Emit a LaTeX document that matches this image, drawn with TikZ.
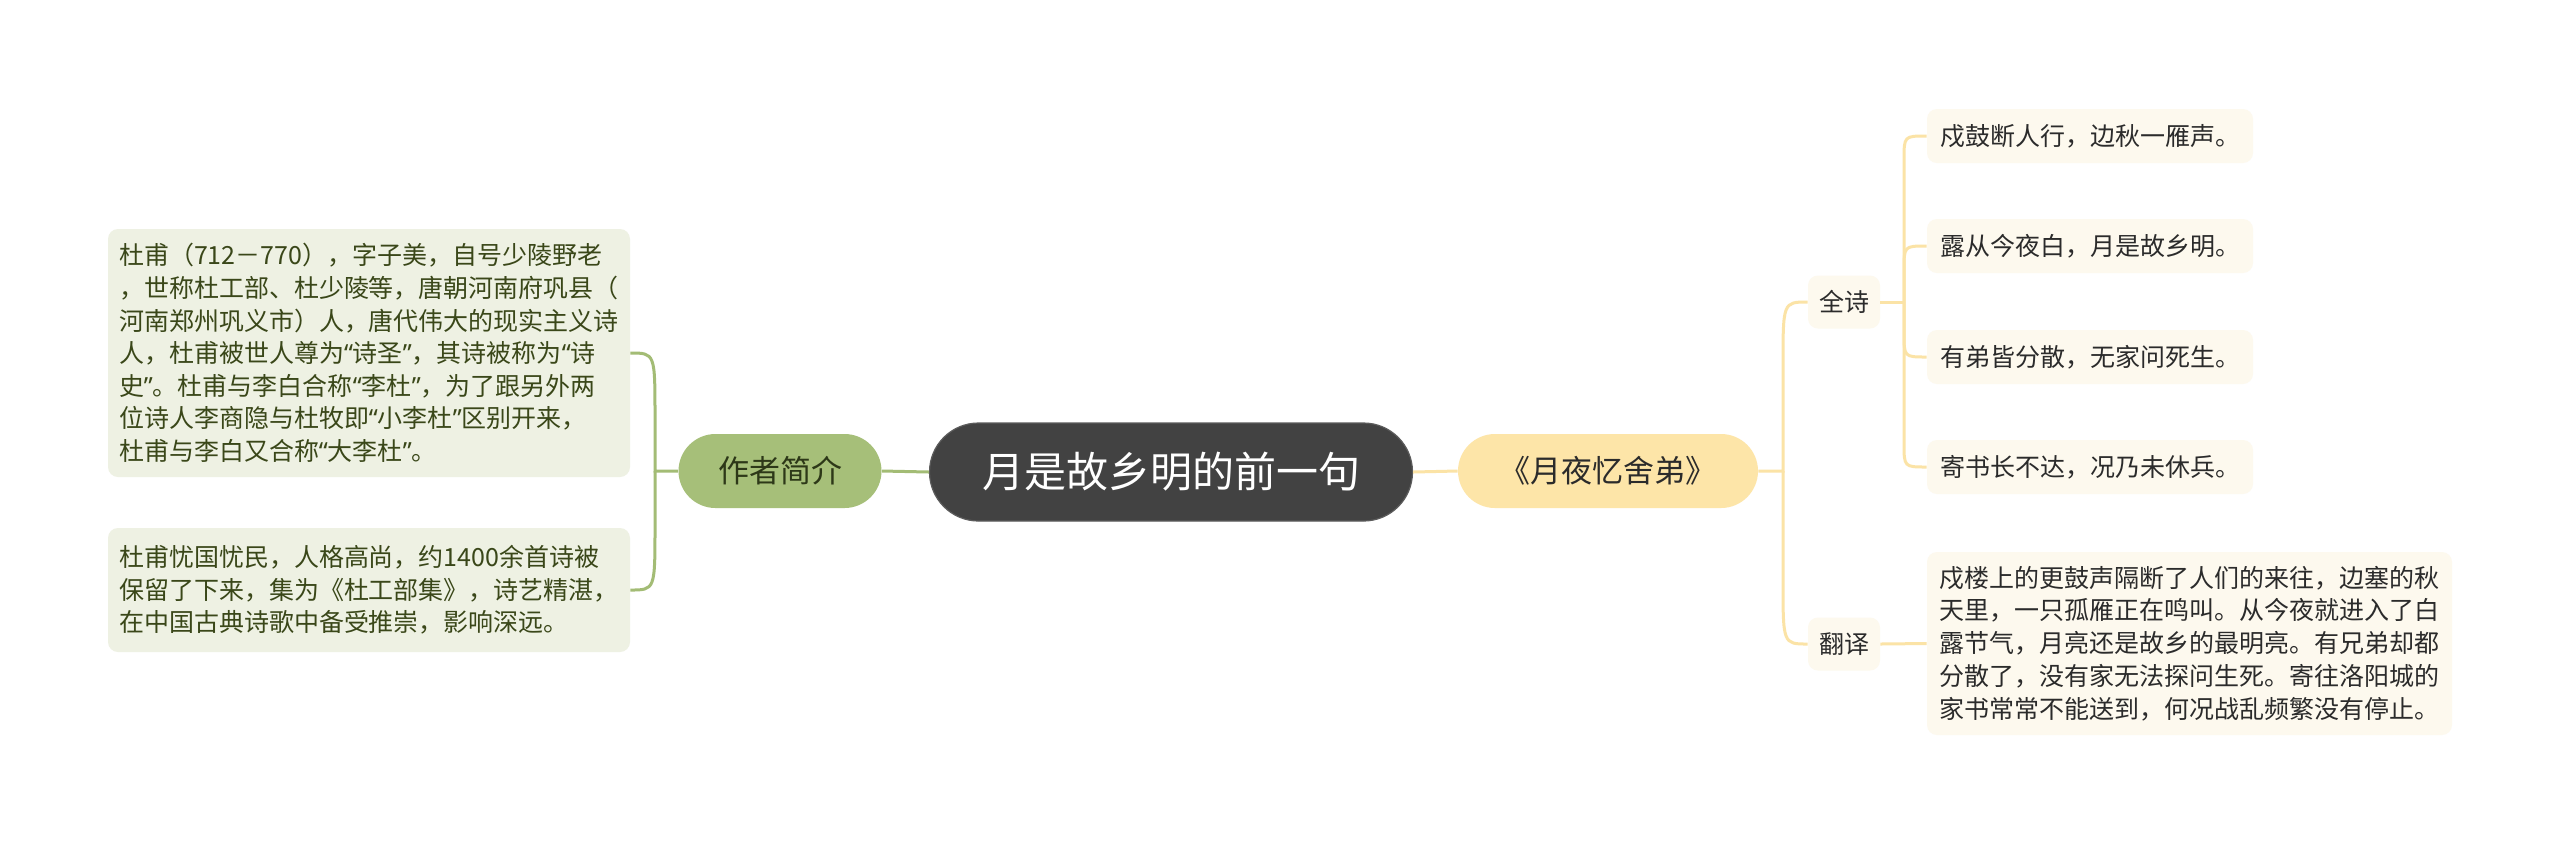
\documentclass[tikz,border=0pt]{standalone}
\usepackage{fontspec}
\setmainfont{Noto Sans CJK SC}
\newfontfamily\quotefont{Noto Sans}
\newcommand{\myqo}{{\quotefont “}}
\newcommand{\myqc}{{\quotefont ”}}
\definecolor{centerfill}{HTML}{424242}
\definecolor{centerborder}{HTML}{5C5C5C}
\definecolor{gfill}{HTML}{A6BF79}
\definecolor{gline}{HTML}{A3BC75}
\definecolor{gbox}{HTML}{EEF1E3}
\definecolor{gtext}{HTML}{3A4719}
\definecolor{gnodetext}{HTML}{2D3818}
\definecolor{yfill}{HTML}{FDE5A8}
\definecolor{yline}{HTML}{FBE3A6}
\definecolor{ybox}{HTML}{FDF9EE}
\definecolor{rtext}{HTML}{2B2B2B}
\tikzset{
  mainnode/.style={fill=centerfill, draw=centerborder, line width=0.6pt, text=white,
    rounded corners=24.5pt, minimum width=241.5pt, minimum height=49pt, inner sep=0pt,
    font=\fontsize{21}{25}\selectfont},
  greennode/.style={fill=gfill, text=gnodetext, rounded corners=18.5pt,
    minimum width=101.5pt, minimum height=37pt, inner sep=0pt,
    font=\fontsize{15.5}{19}\selectfont},
  yellownode/.style={fill=yfill, text=rtext, rounded corners=18.5pt,
    minimum width=150pt, minimum height=37pt, inner sep=0pt,
    font=\fontsize{15.5}{19}\selectfont},
  leftbox/.style={fill=gbox, text=gtext, rounded corners=5pt, align=left,
    minimum width=261pt, inner sep=0pt, font=\fontsize{12.5}{16.3}\selectfont},
  smallnode/.style={fill=ybox, text=rtext, rounded corners=5pt,
    minimum width=36pt, minimum height=26.5pt, inner sep=0pt,
    font=\fontsize{12.5}{16.3}\selectfont},
  leafbox/.style={fill=ybox, text=rtext, rounded corners=5pt, align=left,
    minimum width=163pt, minimum height=27pt, inner sep=0pt,
    font=\fontsize{12.5}{16.3}\selectfont},
  transbox/.style={fill=ybox, text=rtext, rounded corners=5pt, align=left,
    minimum width=262.5pt, minimum height=91.5pt, inner sep=0pt,
    font=\fontsize{12.5}{16.4}\selectfont},
  glink/.style={draw=gline, line width=1.5pt},
  ylink/.style={draw=yline, line width=1.5pt},
}
\begin{document}
\begin{tikzpicture}[x=0.5pt,y=-0.5pt]
\fill[white] (0,0) rectangle (2560,843);
\useasboundingbox (0,0) rectangle (2560,843);

% nodes
\node[mainnode] (c) at (1171,472) {月是故乡明的前一句};
\node[greennode] (zz) at (780,471) {作者简介};
\node[yellownode] (yy) at (1608,471) {《月夜忆舍弟》};

\node[leftbox, minimum height=124pt] (b1) at (369,353) {杜甫（712－770），字子美，自号少陵野老\\，世称杜工部、杜少陵等，唐朝河南府巩县（\\河南郑州巩义市）人，唐代伟大的现实主义诗\\人，杜甫被世人尊为\myqo 诗圣\myqc ，其诗被称为\myqo 诗\\史\myqc 。杜甫与李白合称\myqo 李杜\myqc ，为了跟另外两\\位诗人李商隐与杜牧即\myqo 小李杜\myqc 区别开来，\\杜甫与李白又合称\myqo 大李杜\myqc 。};
\node[leftbox, minimum height=62pt] (b2) at (369,590) {杜甫忧国忧民，人格高尚，约1400余首诗被\\保留了下来，集为《杜工部集》，诗艺精湛，\\在中国古典诗歌中备受推崇，影响深远。};

\node[smallnode] (qs) at (1844,302) {全诗};
\node[smallnode] (fy) at (1844,644) {翻译};

\node[leafbox] (p1) at (2090,136) {戍鼓断人行，边秋一雁声。};
\node[leafbox] (p2) at (2090,246) {露从今夜白，月是故乡明。};
\node[leafbox] (p3) at (2090,357) {有弟皆分散，无家问死生。};
\node[leafbox] (p4) at (2090,467) {寄书长不达，况乃未休兵。};

\node[transbox] (tr) at (2189.5,643.5) {戍楼上的更鼓声隔断了人们的来往，边塞的秋\\天里，一只孤雁正在鸣叫。从今夜就进入了白\\露节气，月亮还是故乡的最明亮。有兄弟却都\\分散了，没有家无法探问生死。寄往洛阳城的\\家书常常不能送到，何况战乱频繁没有停止。};

% trunk coordinates
\coordinate (lt) at (655,471);
\coordinate (rt) at (1783,471);
\coordinate (qt) at (1904,302);

% connectors
\draw[glink] (c.west) -- (zz.west -| zz.east);
\draw[glink] (zz.west) -- (lt) -- ([yshift=-32pt]lt |- b1.east) .. controls (lt |- b1.east) .. (b1.east);
\draw[glink] (lt) -- ([yshift=32pt]lt |- b2.east) .. controls (lt |- b2.east) .. (b2.east);

\draw[ylink] (c.east) -- (yy.west);
\draw[ylink] (yy.east) -- (rt) -- ([yshift=-32pt]rt |- qs.west) .. controls (rt |- qs.west) .. (qs.west);
\draw[ylink] (rt) -- ([yshift=32pt]rt |- fy.west) .. controls (rt |- fy.west) .. (fy.west);

\draw[ylink] (qs.east) -- (qt);
\draw[ylink] (qt) -- ([yshift=-12pt]qt |- p1.west) .. controls (qt |- p1.west) .. (p1.west);
\draw[ylink] (qt) -- ([yshift=-12pt]qt |- p2.west) .. controls (qt |- p2.west) .. (p2.west);
\draw[ylink] (qt) -- ([yshift=12pt]qt |- p3.west) .. controls (qt |- p3.west) .. (p3.west);
\draw[ylink] (qt) -- ([yshift=12pt]qt |- p4.west) .. controls (qt |- p4.west) .. (p4.west);

\draw[ylink] (fy.east) -- (tr.west);
\end{tikzpicture}
\end{document}
